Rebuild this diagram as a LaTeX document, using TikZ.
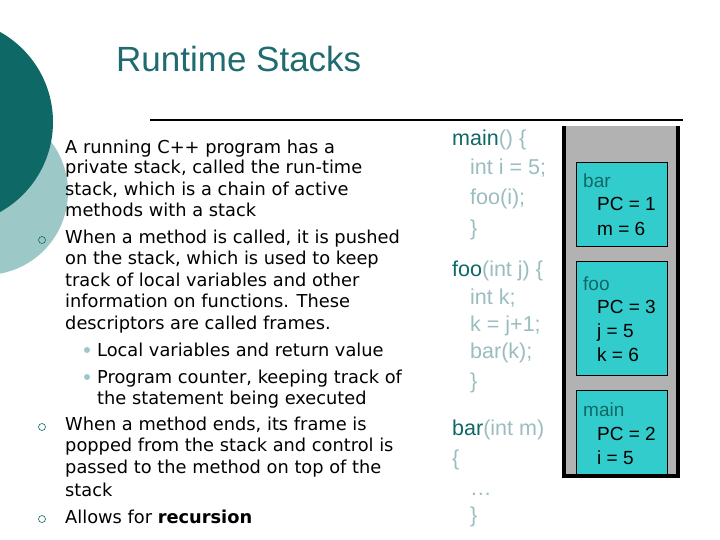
\documentclass[tikz,border=0pt]{standalone}
\usepackage{fontspec}
\setmainfont{DejaVu Sans}
\newfontfamily\arial{Liberation Sans}
\definecolor{teal1}{HTML}{0E6966}
\definecolor{teal2}{HTML}{9DC8C8}
\definecolor{codegray}{HTML}{9BBDBF}
\definecolor{boxc}{HTML}{33CCCC}
\definecolor{title}{HTML}{1F6B70}
\begin{document}
\begin{tikzpicture}[x=1pt,y=-1pt,
  txt/.style={anchor=base west,inner sep=0pt,font=\fontsize{17.8}{20}\selectfont},
  code/.style={anchor=base west,inner sep=0pt,font=\arial\fontsize{21.5}{23}\selectfont,text=codegray},
  fr/.style={anchor=base west,inner sep=0pt,font=\arial\fontsize{19}{20}\selectfont},
  box/.style={draw=black,fill=boxc,line width=0.8pt}]
\useasboundingbox (0,0) rectangle (720,540);
\fill[white] (0,0) rectangle (720,540);
\fill[teal2] (-15,192) circle (83);
\fill[teal1] (-50,122) circle (103);
\node[anchor=base west,inner sep=0pt,text=title,font=\arial\fontsize{35}{37}\selectfont] (t) at (116,72) {Runtime Stacks};
\draw[line width=1.2pt] (150,120) coordinate (l1) -- (683,120) coordinate (l2);
% left text
\foreach \y/\s in {147/{A running C++ program has a},167/{private stack, called the run-time},189/{stack, which is a chain of active},210/{methods with a stack},237/{When a method is called, it is pushed},258/{on the stack, which is used to keep},280/{track of local variables and other},301/{information on functions.  These},323/{descriptors are called frames.},424/{When a method ends, its frame is},445/{popped from the stack and control is},467/{passed to the method on top of the},490/{stack}}
  \node[txt] at (65,\y+6.5) {\s};
\node[txt] at (97,356) {Local variables and return value};
\node[txt] at (97,383) {Program counter, keeping track of};
\node[txt] at (97,404) {the statement being executed};
\node[txt] at (65,523) {Allows for \textbf{recursion}};
\draw[teal1,line width=0.6pt] (42,240) circle (3.5) (42,427) circle (3.5) (42,519) circle (3.5);
\fill[teal2] (87,350) circle (3) (87,377) circle (3);
% code
\node[code] at (452,146) {\textcolor{teal1}{main}() \{};
\node[code] at (470,175) {int i = 5;};
\node[code] at (470,205) {foo(i);};
\node[code] at (470,236) {\}};
\node[code] at (452,276) {\textcolor{teal1}{foo}(int j) \{};
\node[code] at (470,304) {int k;};
\node[code] at (470,331) {k = j+1;};
\node[code] at (470,358) {bar(k);};
\node[code] at (470,388) {\}};
\node[code] at (452,435) {\textcolor{teal1}{bar}(int m)};
\node[code] at (452,465) {\{};
\node[code] at (470,495) {\dots};
\node[code] at (470,522) {\}};
% stack
\fill[gray!60] (564,126) rectangle (678,476);
\draw[line width=4pt] (564,126) -- (564,476) -- (678,476) -- (678,126);
\node[box,minimum width=91pt,minimum height=84pt,anchor=north west] (bar) at (576,162) {};
\node[box,minimum width=91pt,minimum height=114pt,anchor=north west] (foo) at (576,261) {};
\node[box,minimum width=91pt,minimum height=84pt,anchor=north west] (main) at (576,390) {};
\node[fr,text=teal1] at (583,188) {bar};
\node[fr] at (597,211) {PC = 1};
\node[fr] at (597,236) {m = 6};
\node[fr,text=teal1] at (583,290) {foo};
\node[fr] at (597,313) {PC = 3};
\node[fr] at (597,337) {j = 5};
\node[fr] at (597,361) {k = 6};
\node[fr,text=teal1] at (583,416) {main};
\node[fr] at (597,440) {PC = 2};
\node[fr] at (597,464) {i = 5};
\end{tikzpicture}
\end{document}
